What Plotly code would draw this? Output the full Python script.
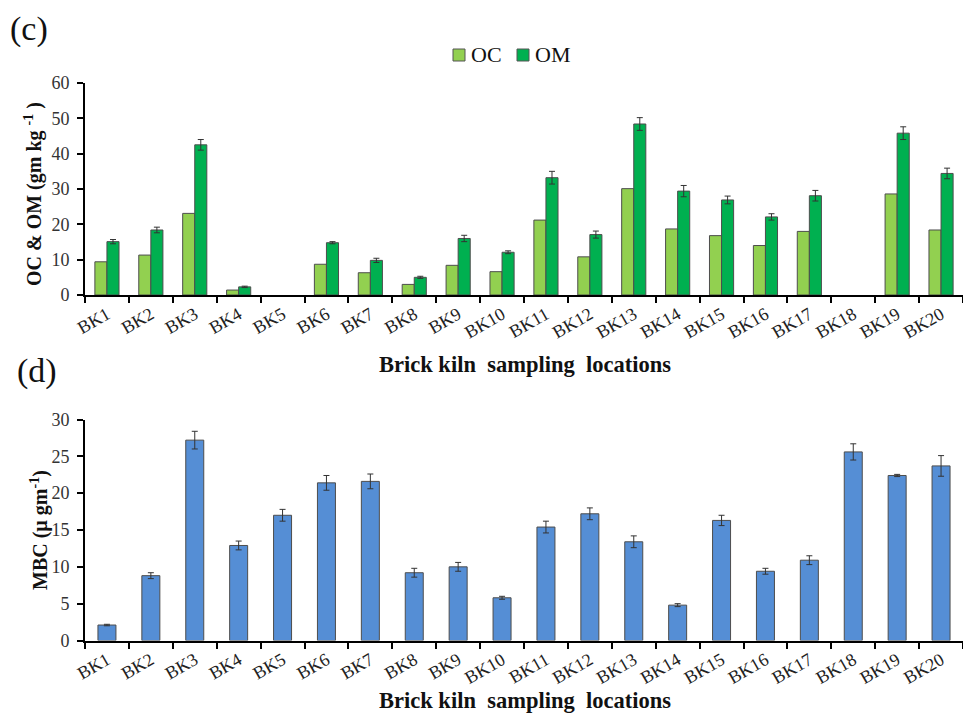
import plotly.graph_objects as go

# Brick kiln sampling locations
locations = [f"BK{i}" for i in range(1, 21)]

# Organic carbon and organic matter (gm kg-1)
oc = [9.4, 11.3, 23.1, 1.4, 0, 8.7, 6.3, 3.0, 8.4, 6.6,
      21.2, 10.8, 30.1, 18.7, 16.8, 14.0, 18.0, 0, 28.6, 18.4]
om = [15.1, 18.4, 42.5, 2.3, 0, 14.8, 9.8, 5.0, 16.0, 12.1,
      33.2, 17.1, 48.4, 29.4, 26.9, 22.1, 28.1, 0, 45.8, 34.4]
om_err = [0.6, 0.8, 1.5, 0.2, 0, 0.3, 0.6, 0.3, 0.9, 0.4,
          1.8, 1.0, 1.8, 1.6, 1.1, 0.9, 1.5, 0, 1.8, 1.5]

# Microbial biomass carbon (µ gm-1)
mbc = [2.1, 8.8, 27.2, 12.9, 17.0, 21.4, 21.6, 9.2, 10.0, 5.8,
       15.4, 17.2, 13.4, 4.8, 16.3, 9.4, 10.9, 25.6, 22.4, 23.7]
mbc_err = [0.1, 0.4, 1.2, 0.6, 0.8, 1.0, 1.0, 0.6, 0.6, 0.2,
           0.8, 0.8, 0.8, 0.2, 0.7, 0.4, 0.6, 1.1, 0.15, 1.4]

SERIF = "Liberation Serif, Times New Roman, serif"
W, H = 963, 713
OC_COLOR, OM_COLOR, MBC_COLOR = "#92D050", "#00B050", "#558ED5"


def py(px):
    """Convert a pixel row (from top) to paper y."""
    return 1 - px / H


def px_x(px):
    return px / W


def nonzero(values):
    # empty (zero) samples are left blank rather than drawn as flat bars
    return [v if v > 0 else None for v in values]


def err(errs):
    return dict(type="data", array=errs, visible=True,
                color="#333333", thickness=1, width=3)


edge = dict(color="#4d4d4d", width=1)

fig = go.Figure()

fig.add_trace(go.Bar(
    x=locations, y=nonzero(oc), name="OC", marker=dict(color=OC_COLOR, line=edge),
    xaxis="x", yaxis="y",
))
fig.add_trace(go.Bar(
    x=locations, y=nonzero(om), name="OM", marker=dict(color=OM_COLOR, line=edge),
    error_y=err(om_err), xaxis="x", yaxis="y",
))
fig.add_trace(go.Bar(
    x=locations, y=mbc, name="MBC", width=0.41,
    marker=dict(color=MBC_COLOR, line=edge),
    error_y=err(mbc_err), xaxis="x2", yaxis="y2",
))

xdom = [px_x(85), 1.0]
common_x = dict(
    type="category", range=[-0.5, 19.5], tickangle=-30, tickson="boundaries",
    ticks="outside", ticklen=6, tickwidth=2, tickcolor="black",
    showline=True, linecolor="black", linewidth=2, showgrid=False,
    automargin=False, tickfont=dict(family=SERIF, size=18, color="#222222"),
)
common_y = dict(
    ticks="outside", ticklen=6, tickwidth=2, tickcolor="black",
    showline=True, linecolor="black", linewidth=2, showgrid=False,
    zeroline=False, automargin=False, ticklabelstandoff=4,
    tickfont=dict(family=SERIF, size=18, color="#333333"),
)

fig.update_layout(
    width=W, height=H,
    margin=dict(l=0, r=0, t=0, b=0, autoexpand=False),
    paper_bgcolor="white", plot_bgcolor="white",
    barmode="group", bargap=0.45, bargroupgap=0,
    showlegend=False,
    xaxis=dict(domain=xdom, anchor="y", **common_x),
    yaxis=dict(domain=[py(295), py(83)], range=[0, 60], dtick=10, anchor="x", **common_y),
    xaxis2=dict(domain=xdom, anchor="y2", **common_x),
    yaxis2=dict(domain=[py(640.5), py(419.5)], range=[0, 30], dtick=5, anchor="x2", **common_y),
)

# Legend keys for OC / OM
for x0, color, label in [(453, OC_COLOR, "OC"), (517, OM_COLOR, "OM")]:
    fig.add_shape(type="rect", xref="paper", yref="paper",
                  x0=px_x(x0), x1=px_x(x0 + 12), y0=py(61), y1=py(49),
                  fillcolor=color, line=dict(color="#555555", width=1))
    fig.add_annotation(text=label, xref="paper", yref="paper", x=px_x(x0 + 16), y=py(55),
                       xanchor="left", yanchor="middle", showarrow=False,
                       font=dict(family=SERIF, size=22, color="#111111"))

xtitle = "<b>Brick kiln\u00a0 sampling\u00a0 locations</b>"
ann = [
    dict(text="(c)", x=8 / W, y=py(29), font=dict(size=34)),
    dict(text="(d)", x=15 / W, y=py(371), font=dict(size=34)),
    dict(text=xtitle, x=525 / W, y=py(364), xanchor="center", font=dict(size=22.5)),
    dict(text=xtitle, x=525 / W, y=py(700), xanchor="center", font=dict(size=22.5)),
    dict(text="<b>OC & OM (gm kg <sup>-1</sup> )</b>", x=33 / W, y=py(194),
         xanchor="center", textangle=-90, font=dict(size=20)),
    dict(text="<b>MBC (µ gm<sup>-1</sup>)</b>", x=39 / W, y=py(530),
         xanchor="center", textangle=-90, font=dict(size=20)),
]
for a in ann:
    a.setdefault("xanchor", "left")
    a["font"] = dict(family=SERIF, color="#111111", **a["font"])
    fig.add_annotation(xref="paper", yref="paper", yanchor="middle",
                       showarrow=False, **a)

fig.write_html("out.html")
